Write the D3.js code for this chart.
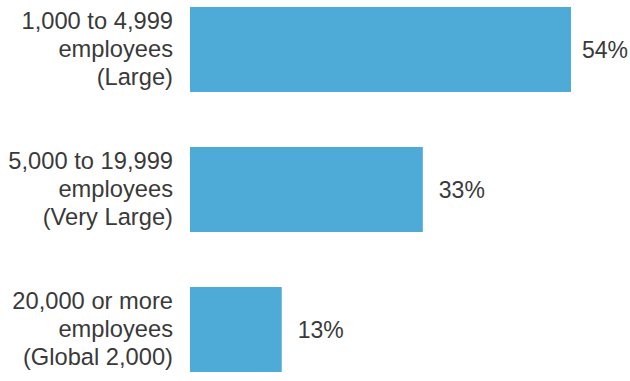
<!DOCTYPE html>
<html>
<head>
<meta charset="utf-8">
<script src="https://cdn.jsdelivr.net/npm/d3@7"></script>
<style>
html,body{margin:0;padding:0;background:#fff;}
svg{display:block;}
text{font-family:"Liberation Sans", Arial, Helvetica, sans-serif;}
</style>
</head>
<body>
<script>
const categories = [
  ["1,000 to 4,999", "employees", "(Large)"],
  ["5,000 to 19,999", "employees", "(Very Large)"],
  ["20,000 or more", "employees", "(Global 2,000)"]
];
const values = [54, 33, 13];
const valueLabels = ["54%", "33%", "13%"];

const W = 630, H = 381;
const svg = d3.select("body").append("svg").attr("width", W).attr("height", H);

const x = d3.scaleLinear().domain([0, d3.max(values)]).range([190, 571]);
const y = d3.scaleBand().domain(d3.range(values.length)).range([7, 372]).paddingInner(0.393).paddingOuter(0);

const textColor = "#3a3a3a";
const fsLabel = 23.7;
const fsValue = 23;

svg.selectAll("rect.bar").data(values).join("rect")
  .attr("class", "bar")
  .attr("x", x(0))
  .attr("y", (d, i) => y(i))
  .attr("width", d => x(d) - x(0))
  .attr("height", y.bandwidth())
  .attr("fill", "#4eaad7");

const vals = svg.selectAll("text.val").data(values).join("text")
  .attr("class", "val")
  .attr("y", (d, i) => y(i) + y.bandwidth() / 2)
  .attr("dy", "0.35em")
  .attr("font-size", fsValue)
  .attr("fill", textColor)
  .text((d, i) => valueLabels[i]);
vals.each(function(d) {
  const w = this.getComputedTextLength();
  d3.select(this).attr("x", Math.min(x(d) + 16, W - w - 2));
});

const lineH = 28;
categories.forEach((lines, i) => {
  const cy = y(i) + y.bandwidth() / 2;
  const t = svg.append("text")
    .attr("text-anchor", "end")
    .attr("font-size", fsLabel)
    .attr("fill", textColor);
  lines.forEach((ln, j) => {
    t.append("tspan")
      .attr("x", 173)
      .attr("y", cy + (j - (lines.length - 1) / 2) * lineH)
      .attr("dy", "0.3em")
      .text(ln);
  });
});
</script>
</body>
</html>
